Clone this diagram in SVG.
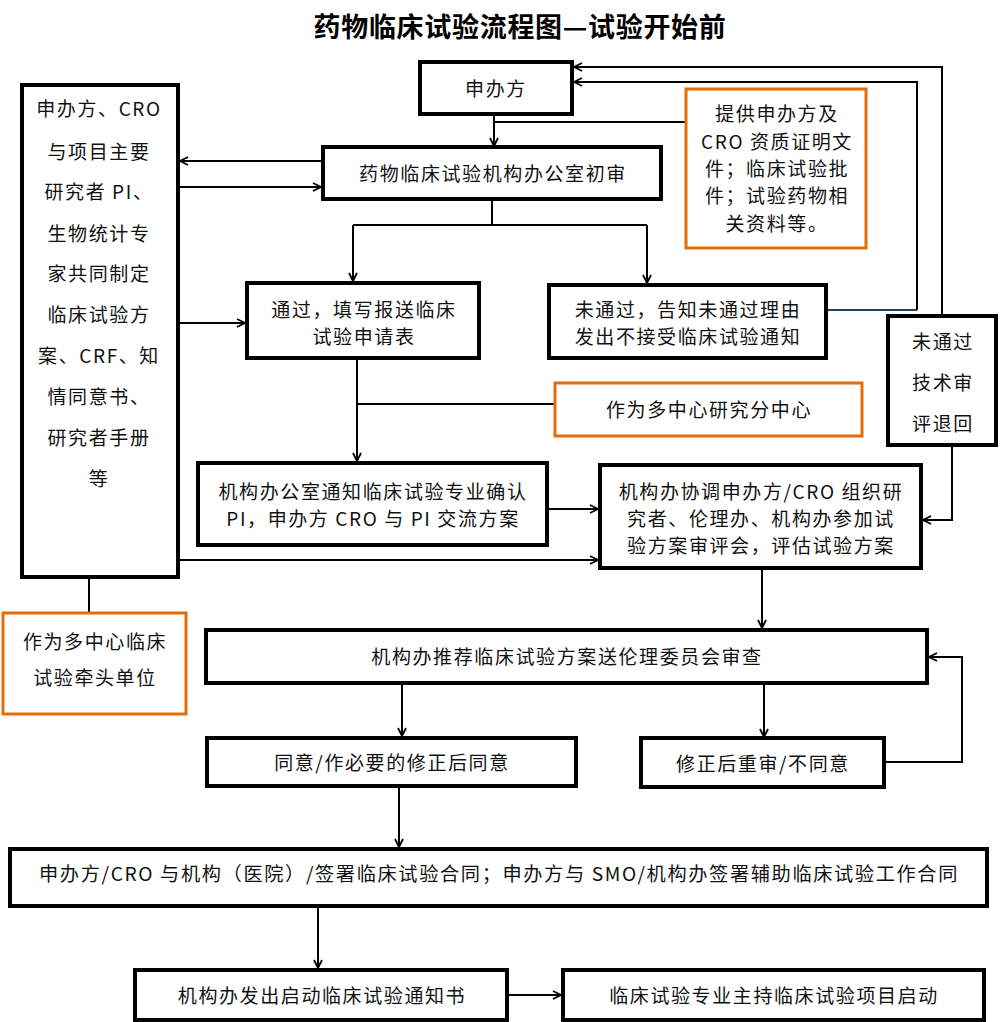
<svg xmlns="http://www.w3.org/2000/svg" width="1000" height="1022" viewBox="0 0 1000 1022">
<defs>
<marker id="arr" viewBox="0 0 10 10" refX="9" refY="5" markerWidth="10" markerHeight="10" markerUnits="userSpaceOnUse" orient="auto">
<path d="M1,1 L9,5 L1,9" fill="none" stroke="#000" stroke-width="1.8"/>
</marker>
</defs>
<style>
.box{fill:#fff;stroke:#000;stroke-width:4}
.obox{fill:#fff;stroke:#E46C0A;stroke-width:3}
.t{font-family:"Noto Sans CJK SC","Liberation Sans",sans-serif;font-size:19px;letter-spacing:1.6px;fill:#111;text-anchor:middle;dominant-baseline:central}
.title{font-family:"Noto Sans CJK SC","Liberation Sans",sans-serif;font-size:27px;letter-spacing:0.7px;font-weight:bold;fill:#000;text-anchor:middle}
.c{fill:none;stroke:#000;stroke-width:2}
.ca{fill:none;stroke:#000;stroke-width:2;marker-end:url(#arr)}
</style>
<rect width="1000" height="1022" fill="#fff"/>
<text class="title" x="520" y="37">药物临床试验流程图—试验开始前</text>

<g id="connectors">
<path class="ca" d="M494,114 V146"/>
<path class="c" d="M686,122 H494"/>
<path class="ca" d="M323,161 H180"/>
<path class="ca" d="M178,187 H321"/>
<path class="c" d="M492,199 V225 M353,225 H647"/>
<path class="ca" d="M353,225 V281"/>
<path class="ca" d="M647,225 V283"/>
<path class="ca" d="M178,323 H245"/>
<path d="M826,310 H917" fill="none" stroke="#1F3F73" stroke-width="2"/>
<path class="ca" d="M917,310 V82 H574"/>
<path class="ca" d="M942,316 V67 H574"/>
<path class="ca" d="M357,358 V461"/>
<path class="c" d="M555,404 H357"/>
<path class="ca" d="M547,509 H598"/>
<path class="ca" d="M178,560 H598"/>
<path class="ca" d="M952,445 V520 H923"/>
<path class="c" d="M89,577 V613"/>
<path class="ca" d="M762,568 V628"/>
<path class="ca" d="M402,683 V736"/>
<path class="ca" d="M764,683 V737"/>
<path class="ca" d="M884,762 H962 V657 H929"/>
<path class="ca" d="M399,786 V847"/>
<path class="ca" d="M318,907 V968"/>
<path class="ca" d="M507,995 H561"/>
</g>

<g id="sponsor">
<rect class="box" x="420" y="62" width="152" height="52"/>
<text class="t" x="496" y="87">申办方</text>
</g>
<g id="initial-review">
<rect class="box" x="323" y="147" width="338" height="52"/>
<text class="t" x="493" y="172">药物临床试验机构办公室初审</text>
</g>
<g id="documents">
<rect class="obox" x="686" y="89" width="180" height="159"/>
<text class="t" x="777" y="112">提供申办方及</text>
<text class="t" x="777" y="140">CRO 资质证明文</text>
<text class="t" x="777" y="167">件；临床试验批</text>
<text class="t" x="777" y="194">件；试验药物相</text>
<text class="t" x="777" y="222">关资料等。</text>
</g>
<g id="protocol-team">
<rect class="box" x="22" y="85" width="156" height="492"/>
<text class="t" x="99" y="107">申办方、CRO</text>
<text class="t" x="99" y="150">与项目主要</text>
<text class="t" x="99" y="190">研究者 PI、</text>
<text class="t" x="99" y="232">生物统计专</text>
<text class="t" x="99" y="272">家共同制定</text>
<text class="t" x="99" y="313">临床试验方</text>
<text class="t" x="99" y="354">案、CRF、知</text>
<text class="t" x="99" y="395">情同意书、</text>
<text class="t" x="99" y="436">研究者手册</text>
<text class="t" x="99" y="477">等</text>
</g>
<g id="passed">
<rect class="box" x="247" y="283" width="232" height="75"/>
<text class="t" x="364" y="308">通过，填写报送临床</text>
<text class="t" x="364" y="335">试验申请表</text>
</g>
<g id="not-passed">
<rect class="box" x="549" y="285" width="277" height="73"/>
<text class="t" x="688" y="308">未通过，告知未通过理由</text>
<text class="t" x="688" y="335">发出不接受临床试验通知</text>
</g>
<g id="tech-return">
<rect class="box" x="888" y="316" width="108" height="129"/>
<text class="t" x="943" y="340">未通过</text>
<text class="t" x="943" y="381">技术审</text>
<text class="t" x="943" y="422">评退回</text>
</g>
<g id="sub-center">
<rect class="obox" x="555" y="383" width="307" height="53"/>
<text class="t" x="709" y="408">作为多中心研究分中心</text>
</g>
<g id="notify-pi">
<rect class="box" x="198" y="463" width="349" height="82"/>
<text class="t" x="373" y="490">机构办公室通知临床试验专业确认</text>
<text class="t" x="373" y="517">PI，申办方 CRO 与 PI 交流方案</text>
</g>
<g id="coordinate">
<rect class="box" x="600" y="465" width="321" height="103"/>
<text class="t" x="761" y="490">机构办协调申办方/CRO 组织研</text>
<text class="t" x="761" y="517">究者、伦理办、机构办参加试</text>
<text class="t" x="761" y="544">验方案审评会，评估试验方案</text>
</g>
<g id="lead-unit">
<rect class="obox" x="3" y="613" width="183" height="101"/>
<text class="t" x="95" y="640">作为多中心临床</text>
<text class="t" x="95" y="676">试验牵头单位</text>
</g>
<g id="ethics">
<rect class="box" x="206" y="630" width="721" height="53"/>
<text class="t" x="567" y="655">机构办推荐临床试验方案送伦理委员会审查</text>
</g>
<g id="agree">
<rect class="box" x="207" y="738" width="369" height="48"/>
<text class="t" x="392" y="761">同意/作必要的修正后同意</text>
</g>
<g id="revise">
<rect class="box" x="641" y="738" width="243" height="49"/>
<text class="t" x="763" y="762">修正后重审/不同意</text>
</g>
<g id="contract">
<rect class="box" x="10" y="849" width="977" height="57"/>
<text class="t" x="499" y="872" textLength="920" lengthAdjust="spacingAndGlyphs">申办方/CRO 与机构（医院）/签署临床试验合同；申办方与 SMO/机构办签署辅助临床试验工作合同</text>
</g>
<g id="start-notice">
<rect class="box" x="135" y="970" width="372" height="50"/>
<text class="t" x="322" y="994">机构办发出启动临床试验通知书</text>
</g>
<g id="project-start">
<rect class="box" x="563" y="970" width="421" height="50"/>
<text class="t" x="774" y="994">临床试验专业主持临床试验项目启动</text>
</g>
</svg>
